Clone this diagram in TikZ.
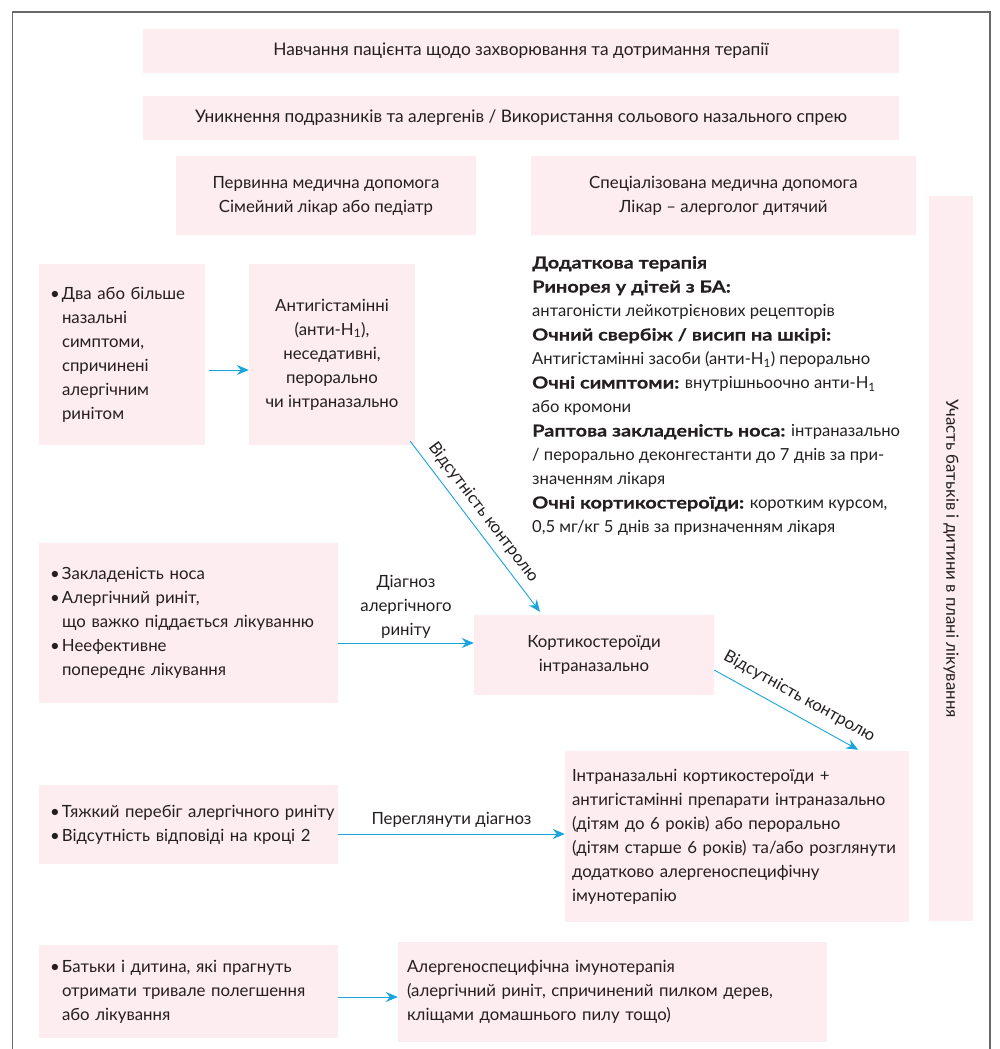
\documentclass[tikz,border=0pt]{standalone}
\usepackage{fontspec}
\setmainfont{Lato}[BoldFeatures={FakeStretch=1.2,FakeBold=0.4}]
\usetikzlibrary{arrows.meta}
\definecolor{boxpink}{RGB}{253,236,240}
\definecolor{arrblue}{RGB}{25,165,220}
\definecolor{txt}{RGB}{35,31,32}
\definecolor{framegray}{RGB}{105,105,105}
\newcommand{\bul}{\makebox[12pt][l]{\textbullet}}
\newcommand{\ind}{\hspace*{12pt}}
\begin{document}
\begin{tikzpicture}[x=1pt,y=-1pt,
  every node/.style={text=txt},
  box/.style={fill=boxpink, draw=none, inner sep=0pt, font=\fontsize{16.8}{24}\selectfont},
  cbox/.style={box, align=center},
  topbox/.style={cbox, font=\fontsize{17.3}{24}\selectfont},
  lbox/.style={box, align=left},
  arr/.style={draw=arrblue, line width=0.9pt, -{Stealth[length=12pt,width=10pt,inset=4pt]}},
  lbl/.style={inner sep=0pt, font=\fontsize{16.8}{24}\selectfont, align=center},
  panel/.style={inner sep=0pt, font=\fontsize{16.6}{24}\selectfont, align=left}
]
\useasboundingbox (0,0) rectangle (999,1049);
\draw[framegray, line width=1.4pt] (12.5,1049) -- (12.5,12) -- (990,12) -- (990,1049);

\node[topbox, minimum width=756pt, minimum height=44pt] (edu) at (521,51)
  {Навчання пацієнта щодо захворювання та дотримання терапії};
\node[topbox, minimum width=756pt, minimum height=44pt] (avoid) at (521,118)
  {Уникнення подразників та алергенів / Використання сольового назального спрею};
\node[cbox, minimum width=300pt, minimum height=79pt] (prim) at (326,195.5)
  {Первинна медична допомога\\Сімейний лікар або педіатр};
\node[cbox, minimum width=385pt, minimum height=79pt] (spec) at (723.5,195.5)
  {Спеціалізована медична допомога\\Лікар – алерголог дитячий};
\node[cbox, rotate=-90, minimum width=725pt, minimum height=44pt] (side) at (951,558.5)
  {Участь батьків і дитини в плані лікування};

\node[lbox, inner xsep=11pt, text width=144pt, minimum height=181pt] (A) at (122,354.5)
  {\bul Два або більше\\\ind назальні\\\ind симптоми,\\\ind спричинені\\\ind алергічним\\\ind ринітом};
\node[cbox, minimum width=166pt, minimum height=181pt] (B) at (332,354.5)
  {Антигістамінні\\(анти-H\textsubscript{1}),\\неседативні,\\перорально\\чи інтраназально};

\node[panel, anchor=north west] (extra) at (532,256)
  {\textbf{Додаткова терапія}\\
   \textbf{Ринорея у дітей з БА:}\\
   антагоністи лейкотрієнових рецепторів\\
   \textbf{Очний свербіж / висип на шкірі:}\\
   Антигістамінні засоби (анти-H\textsubscript{1}) перорально\\
   \textbf{Очні симптоми:} внутрішньоочно анти-H\textsubscript{1}\\
   або кромони\\
   \textbf{Раптова закладеність носа:} інтраназально\\
   / перорально деконгестанти до 7 днів за при-\\
   значенням лікаря\\
   \textbf{Очні кортикостероїди:} коротким курсом,\\
   0,5 мг/кг 5 днів за призначенням лікаря};

\node[lbox, inner xsep=11pt, text width=277pt, minimum height=160pt] (C) at (188.5,623)
  {\bul Закладеність носа\\\bul Алергічний риніт,\\\ind що важко піддається лікуванню\\\bul Неефективне\\\ind попереднє лікування};
\node[cbox, minimum width=240pt, minimum height=80pt] (D) at (594,655)
  {Кортикостероїди\\інтраназально};

\node[lbox, inner xsep=11pt, text width=277pt, minimum height=79pt] (E) at (188.5,824.5)
  {\mbox{\bul Тяжкий перебіг алергічного риніту}\\\mbox{\bul Відсутність відповіді на кроці 2}};
\node[lbox, inner xsep=7pt, text width=330pt, minimum height=171pt] (F) at (737,836.5)
  {Інтраназальні кортикостероїди +\\антигістамінні препарати інтраназально\\(дітям до 6 років) або перорально\\(дітям старше 6 років) та/або розглянути\\додатково алергеноспецифічну\\імунотерапію};

\node[lbox, inner xsep=11pt, text width=277pt, minimum height=93pt] (G) at (188.5,991.5)
  {\bul Батьки і дитина, які прагнуть\\\ind отримати тривале полегшення\\\ind або лікування};
\node[lbox, inner xsep=9pt, text width=411pt, minimum height=100pt] (H) at (612.5,992)
  {Алергеноспецифічна імунотерапія\\(алергічний риніт, спричинений пилком дерев,\\кліщами домашнього пилу тощо)};

\draw[arr] ([xshift=4pt,yshift=-15.5pt]A.east) -- ([yshift=-15.5pt]B.west);
\draw[arr] ([xshift=-5pt,yshift=4pt]B.south east) -- ([xshift=-54pt,yshift=3pt]D.north)
  node[lbl, sloped, above=7pt, pos=0.47] (nc1) {Відсутність контролю};
\draw[arr] ([yshift=-20pt]C.east) -- ([yshift=12pt]D.west)
  node[lbl, above=4pt, midway] (dx) {Діагноз\\алергічного\\риніту};
\draw[arr] ([yshift=-15pt]D.east) -- ([xshift=-51pt,yshift=1pt]F.north east)
  node[lbl, sloped, above=10pt, pos=0.53] (nc2) {Відсутність контролю};
\draw[arr] ([yshift=-9.5pt]E.east) -- ([yshift=2.5pt]F.west)
  node[lbl, above=6pt, midway] (rev) {Переглянути діагноз};
\draw[arr] ([yshift=-5.5pt]G.east) -- ([yshift=-5pt]H.west);
\end{tikzpicture}
\end{document}
